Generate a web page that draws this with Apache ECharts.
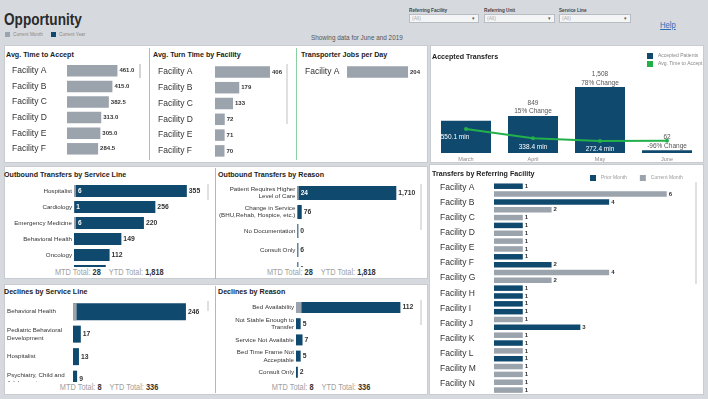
<!DOCTYPE html>
<html>
<head>
<meta charset="utf-8">
<script src="https://cdn.jsdelivr.net/npm/echarts@6/dist/echarts.min.js"></script>
<style>
  html, body { margin: 0; padding: 0; }
  body { width: 708px; height: 399px; background: #d6dadf; position: relative; overflow: hidden;
         font-family: 'Liberation Sans Narrow', 'Liberation Sans', sans-serif; color: #333; }
  .abs { position: absolute; white-space: nowrap; transform-origin: left center; }
  .panel { position: absolute; background: #fff; border: 1px solid #c8ccd1; box-sizing: border-box; }
  .title { position: absolute; font-weight: bold; font-size: 8px; line-height: 10px; color: #222; white-space: nowrap; z-index: 5;
           transform: scaleX(0.89); transform-origin: left center; }
  .vline { position: absolute; width: 1px; background: #8dcfa5; z-index: 5; }
  .scroll { position: absolute; width: 2px; background: #e0e0e0; z-index: 5; }
  .chart { position: absolute; }
  .foot { position: absolute; background: #fff; font-size: 9px; line-height: 11px; color: #a0a0a0; text-align: center; white-space: pre; z-index: 6; }
  .foot span { display: inline-block; transform: scaleX(0.82); transform-origin: center center; }
  .foot b { color: #333; }
  .sq { position: absolute; width: 5px; height: 5px; }
  .filt { position: absolute; font-size: 5.5px; font-weight: bold; color: #444; transform: scaleX(0.85); transform-origin: left center; white-space: nowrap; }
  .box { position: absolute; height: 7px; background: #f4f5f6; border: 1px solid #b9bcc0; font-size: 5px; line-height: 7px; color: #aaa; padding-left: 2px; box-sizing: content-box; }
  .box span { position: absolute; right: 3px; color: #555; font-size: 5px; }
</style>
</head>
<body>

<!-- header -->
<div class="abs" style="left:4px;top:10px;font-size:17px;line-height:20px;font-weight:bold;color:#2a2a2a;transform:scaleX(0.8)">Opportunity</div>
<div class="sq" style="left:5px;top:32px;background:#9ba3ac"></div>
<div class="abs" style="left:13px;top:31px;font-size:5.5px;line-height:7px;color:#888;transform:scaleX(0.85)">Current Month</div>
<div class="sq" style="left:51px;top:32px;background:#10496e"></div>
<div class="abs" style="left:59px;top:31px;font-size:5.5px;line-height:7px;color:#888;transform:scaleX(0.85)">Current Year</div>
<div class="abs" style="left:311px;top:33px;font-size:7.5px;line-height:10px;color:#555;transform:scaleX(0.85)">Showing data for June and 2019</div>

<div class="filt" style="left:409px;top:7px">Referring Facility</div>
<div class="box" style="left:409px;top:14px;width:66px">(All)<span>▾</span></div>
<div class="filt" style="left:484px;top:7px">Referring Unit</div>
<div class="box" style="left:484px;top:14px;width:67px">(All)<span>▾</span></div>
<div class="filt" style="left:559px;top:7px">Service Line</div>
<div class="box" style="left:559px;top:14px;width:68px">(All)<span>▾</span></div>
<div class="abs" style="left:660px;top:20px;font-size:9px;line-height:11px;color:#2f6db3;text-decoration:underline;transform:scaleX(0.85)">Help</div>

<!-- panels -->
<div class="panel" style="left:4px;top:45px;width:424px;height:118px"></div>
<div class="panel" style="left:430px;top:45px;width:274px;height:118px"></div>
<div class="panel" style="left:4px;top:166px;width:424px;height:113px"></div>
<div class="panel" style="left:4px;top:284px;width:424px;height:111px"></div>
<div class="panel" style="left:429px;top:164px;width:275px;height:231px"></div>

<div class="vline" style="left:149px;top:48px;height:112px"></div>
<div class="vline" style="left:296px;top:48px;height:112px"></div>
<div class="vline" style="left:215px;top:168px;height:111px"></div>
<div class="vline" style="left:215px;top:286px;height:107px"></div>

<!-- charts -->
<div id="cAccept" class="chart" style="left:4px;top:63px;width:144px;height:95px"></div>
<div id="cTurn" class="chart" style="left:150px;top:64px;width:146px;height:96px"></div>
<div id="cTransp" class="chart" style="left:297px;top:64px;width:129px;height:20px"></div>
<div id="cTransfers" class="chart" style="left:430px;top:45px;width:274px;height:118px"></div>
<div id="cOutLine" class="chart" style="left:4px;top:183px;width:210px;height:96px"></div>
<div id="cOutReason" class="chart" style="left:216px;top:183px;width:211px;height:96px"></div>
<div id="cDecLine" class="chart" style="left:4px;top:300px;width:210px;height:94px"></div>
<div id="cDecReason" class="chart" style="left:216px;top:299px;width:211px;height:95px"></div>
<div id="cRef" class="chart" style="left:429px;top:164px;width:275px;height:230px"></div>

<!-- titles -->
<div class="title" style="left:6px;top:50px">Avg. Time to Accept</div>
<div class="title" style="left:153px;top:50px">Avg. Turn Time by Facility</div>
<div class="title" style="left:301px;top:50px">Transporter Jobs per Day</div>
<div class="title" style="left:432px;top:52px">Accepted Transfers</div>
<div class="title" style="left:4px;top:170px">Outbound Transfers by Service Line</div>
<div class="title" style="left:218px;top:170px">Outbound Transfers by Reason</div>
<div class="title" style="left:4px;top:287px">Declines by Service Line</div>
<div class="title" style="left:218px;top:287px">Declines by Reason</div>
<div class="title" style="left:432px;top:169px">Transfers by Referring Facility</div>

<!-- scroll bars -->
<div class="scroll" style="left:139px;top:64px;height:14px;background:#d4d4d4"></div>
<div class="scroll" style="left:286px;top:64px;height:60px"></div>
<div class="scroll" style="left:207px;top:184px;height:16px"></div>
<div class="scroll" style="left:420px;top:184px;height:46px"></div>
<div class="scroll" style="left:207px;top:301px;height:10px"></div>
<div class="scroll" style="left:420px;top:300px;height:25px"></div>
<div class="scroll" style="left:695px;top:182px;height:102px"></div>

<!-- footers -->
<div id="fOutL" class="foot" style="left:5px;top:267px;width:209px;height:11px"></div>
<div id="fOutR" class="foot" style="left:216px;top:267px;width:211px;height:11px"></div>
<div id="fDecL" class="foot" style="left:5px;top:382px;width:209px;height:12px"></div>
<div id="fDecR" class="foot" style="left:216px;top:382px;width:211px;height:12px"></div>

<script>
const NAVY = '#10496e';
const GREY = '#9ba3ac';
const GREEN = '#22b04b';
const FONT = "'Liberation Sans Narrow', 'Liberation Sans', sans-serif";

// --- données ---
const facilities = ['Facility A', 'Facility B', 'Facility C', 'Facility D', 'Facility E', 'Facility F'];
const avgTimeToAccept = [461.0, 415.0, 382.5, 313.0, 305.0, 284.5];
const avgTurnTime = [406, 179, 133, 72, 71, 70];
const transporterFacilities = ['Facility A'];
const transporterJobs = [204];

const months = ['March', 'April', 'May', 'June'];
const acceptedPatients = [738, 849, 1508, 62];
const avgAcceptMinutes = [550.1, 338.4, 272.4, 280];

const outboundLines = ['Hospitalist', 'Cardiology', 'Emergency Medicine', 'Behavioral Health', 'Oncology', 'Neurology'];
const outboundLinesYTD = [355, 256, 220, 149, 112, 100];
const outboundLinesMTD = [6, 1, 6, 0, 0, 0];

const outboundReasons = ['Patient Requires Higher\nLevel of Care', 'Change in Service\n(BHU,Rehab, Hospice, etc.)', 'No Documentation', 'Consult Only', 'Family Request'];
const outboundReasonsYTD = [1710, 76, 0, 6, 1];
const outboundReasonsMTD = [24, 0, 0, 0, 0];

const declineLines = ['Behavioral Health', 'Pediatric Behavioral\nDevelopment', 'Hospitalist', 'Psychiatry, Child and\nAdolescent'];
const declineLinesYTD = [246, 17, 13, 9];
const declineLinesMTD = [8, 0, 0, 0];

const declineReasons = ['Bed Availability', 'Not Stable Enough to\nTransfer', 'Service Not Available', 'Bed Time Frame Not\nAcceptable', 'Consult Only'];
const declineReasonsYTD = [112, 5, 7, 5, 2];
const declineReasonsMTD = [6, 0, 0, 0, 0];

const outboundTotals = { mtd: 28, ytd: 1818 };
const declineTotals = { mtd: 8, ytd: 336 };

const refFacilities = ['Facility A', 'Facility B', 'Facility C', 'Facility D', 'Facility E', 'Facility F', 'Facility G',
  'Facility H', 'Facility I', 'Facility J', 'Facility K', 'Facility L', 'Facility M', 'Facility N'];
// une ligne par barre (27 lignes, la dernière est coupée)
const refPrior =   [1, '-', 4, '-', '-', 1, '-', '-', '-', 1, 2, '-', '-', 1, 1, 1, 1, '-', 3, '-', 1, '-', 1, '-', '-', '-', '-'];
const refCurrent = ['-', 6, '-', 2, 1, '-', 1, 1, 1, '-', '-', 4, 2, '-', '-', '-', '-', 1, '-', 1, '-', 1, '-', 1, 1, 1, 1];

const fmt = v => Number(v).toLocaleString('en-US');

// --- footers ---
function footer(id, t) {
  document.getElementById(id).innerHTML = '<span>MTD Total: <b>' + fmt(t.mtd) + '</b>    YTD Total: <b>' + fmt(t.ytd) + '</b></span>';
}
footer('fOutL', outboundTotals);
footer('fOutR', outboundTotals);
footer('fDecL', declineTotals);
footer('fDecR', declineTotals);

// barres horizontales génériques
function barPanel(id, cfg) {
  const chart = echarts.init(document.getElementById(id));
  const series = [{
    type: 'bar',
    data: cfg.values,
    barWidth: cfg.barWidth,
    barGap: '-100%',
    barMinHeight: cfg.minH || 0,
    itemStyle: { color: cfg.color },
    label: {
      show: true, position: 'right', distance: 2,
      fontSize: cfg.valueSize || 6.8, fontWeight: 'bold', color: '#333',
      formatter: p => cfg.fmt(p.value)
    },
    z: 2
  }];
  if (cfg.mtd) {
    series.push({
      type: 'bar',
      data: cfg.mtd,
      barWidth: cfg.barWidth,
      barGap: '-100%',
      itemStyle: { color: GREY },
      label: {
        show: !!cfg.mtdLabel, position: 'right', distance: 2,
        fontSize: 6.5, fontWeight: 'bold', color: '#fff',
        formatter: p => (p.value ? p.value : '')
      },
      z: 3
    });
  }
  chart.setOption({
    animation: false,
    textStyle: { fontFamily: FONT },
    grid: { left: cfg.left, top: cfg.top || 0, width: cfg.width, height: cfg.band * cfg.cats.length },
    xAxis: { type: 'value', min: 0, max: cfg.max, show: false },
    yAxis: {
      type: 'category', data: cfg.cats, inverse: true,
      axisLine: { show: false }, axisTick: { show: false },
      axisLabel: {
        align: cfg.align || 'right', margin: cfg.margin, fontSize: cfg.labelSize,
        lineHeight: cfg.lineHeight, color: cfg.labelColor || '#333', fontFamily: FONT
      }
    },
    series
  });
}

barPanel('cAccept', {
  cats: facilities, values: avgTimeToAccept, color: GREY,
  left: 63, width: 70, band: 15.6, barWidth: 11.5, max: 640,
  align: 'left', margin: 55, labelSize: 8.5, valueSize: 6, fmt: v => v.toFixed(1)
});
barPanel('cTurn', {
  cats: facilities, values: avgTurnTime, color: GREY,
  left: 65, width: 70, band: 15.8, barWidth: 11.5, max: 517,
  align: 'left', margin: 57, labelSize: 8.5, valueSize: 6, fmt: v => v
});
barPanel('cTransp', {
  cats: transporterFacilities, values: transporterJobs, color: GREY,
  left: 50, width: 70, band: 16, barWidth: 11.5, max: 234,
  align: 'left', margin: 42, labelSize: 8.5, valueSize: 6, fmt: v => v
});
barPanel('cOutLine', {
  cats: outboundLines, values: outboundLinesYTD, mtd: outboundLinesMTD, mtdLabel: true, color: NAVY,
  left: 70, width: 130, band: 16, barWidth: 12, max: 409,
  margin: 2, labelSize: 6.2, fmt: fmt
});
barPanel('cOutReason', {
  cats: outboundReasons, values: outboundReasonsYTD, mtd: outboundReasonsMTD, mtdLabel: true, color: NAVY,
  left: 79, top: 0.5, width: 110, band: 19, barWidth: 14, max: 1860, minH: 1,
  margin: 2, labelSize: 6.2, lineHeight: 7.5, fmt: fmt
});
barPanel('cDecLine', {
  cats: declineLines, values: declineLinesYTD, mtd: declineLinesMTD, color: NAVY,
  left: 68, top: 0.4, width: 130, band: 22.5, barWidth: 17, max: 281,
  align: 'left', margin: 66, labelSize: 6.2, lineHeight: 8, fmt: fmt
});
barPanel('cDecReason', {
  cats: declineReasons, values: declineReasonsYTD, mtd: declineReasonsMTD, color: NAVY,
  left: 80, top: 0.4, width: 110, band: 16.2, barWidth: 11, max: 118,
  margin: 2, labelSize: 6.2, lineHeight: 7.5, fmt: fmt
});

// Accepted Transfers : barres + courbe
const acc = echarts.init(document.getElementById('cTransfers'));
acc.setOption({
  animation: false,
  textStyle: { fontFamily: FONT },
  legend: {
    orient: 'vertical', left: 212, top: 3, itemWidth: 6, itemHeight: 6, itemGap: 2,
    textStyle: { fontSize: 5, color: '#888' },
    data: [{ name: 'Accepted Patients', icon: 'rect' }, { name: 'Avg. Time to Accept', icon: 'rect' }]
  },
  grid: { left: 2.5, width: 268, top: 16.2, bottom: 10 },
  xAxis: {
    type: 'category', data: months,
    axisLine: { show: false }, axisTick: { show: false },
    axisLabel: { fontSize: 5.5, color: '#888', margin: 3 }
  },
  yAxis: { type: 'value', min: 0, max: 2100, show: false },
  series: [
    {
      name: 'Accepted Patients', type: 'bar', data: acceptedPatients, barWidth: 50,
      itemStyle: { color: NAVY },
      label: {
        show: true, position: 'top', distance: 0, fontSize: 6.5, lineHeight: 8.5, color: '#555',
        formatter: p => {
          if (p.dataIndex === 0) return '';
          const prev = acceptedPatients[p.dataIndex - 1];
          const pct = Math.round((p.value / prev - 1) * 100);
          return fmt(p.value) + '\n' + pct + '% Change';
        }
      }
    },
    {
      name: 'Avg. Time to Accept', type: 'line', z: 5,
      data: avgAcceptMinutes.map((v, i) => (i === 0 ? { value: v, label: { offset: [-11, 0] } } : v)),
      symbol: 'circle', symbolSize: 4,
      itemStyle: { color: GREEN }, lineStyle: { color: GREEN, width: 2 },
      label: {
        show: true, position: 'bottom', distance: 3, fontSize: 6.5, color: '#fff',
        formatter: p => (p.dataIndex < 3 ? p.value.toFixed(1) + ' min' : '')
      }
    }
  ]
});

// Transfers by Referring Facility
const rowIds = refPrior.map((_, i) => 'r' + i);
const ref = echarts.init(document.getElementById('cRef'));
ref.setOption({
  animation: false,
  textStyle: { fontFamily: FONT },
  legend: {
    left: 156, top: 6, itemWidth: 6, itemHeight: 6, itemGap: 13, icon: 'rect',
    textStyle: { fontSize: 5, color: '#999' },
    data: ['Prior Month', 'Current Month']
  },
  grid: [
    { left: 65, top: 18.3, width: 190, height: rowIds.length * 7.96 },
    { left: 65, top: 15.6, width: 190, height: 212 }
  ],
  xAxis: [
    { type: 'value', min: 0, max: 6.6, show: false, gridIndex: 0 },
    { type: 'value', min: 0, max: 1, show: false, gridIndex: 1 }
  ],
  yAxis: [
    { type: 'category', data: rowIds, inverse: true, show: false, gridIndex: 0 },
    {
      type: 'category', data: refFacilities, inverse: true, gridIndex: 1,
      axisLine: { show: false }, axisTick: { show: false },
      axisLabel: { align: 'left', margin: 54, fontSize: 8.5, color: '#333', fontFamily: FONT }
    }
  ],
  series: [
    {
      name: 'Prior Month', type: 'bar', data: refPrior, barWidth: 5.5, barGap: '-100%',
      itemStyle: { color: NAVY },
      label: { show: true, position: 'right', distance: 2, fontSize: 6, fontWeight: 'bold', color: '#333' }
    },
    {
      name: 'Current Month', type: 'bar', data: refCurrent, barWidth: 5.5, barGap: '-100%',
      itemStyle: { color: GREY },
      label: { show: true, position: 'right', distance: 2, fontSize: 6, fontWeight: 'bold', color: '#333' }
    }
  ]
});
</script>
</body>
</html>
